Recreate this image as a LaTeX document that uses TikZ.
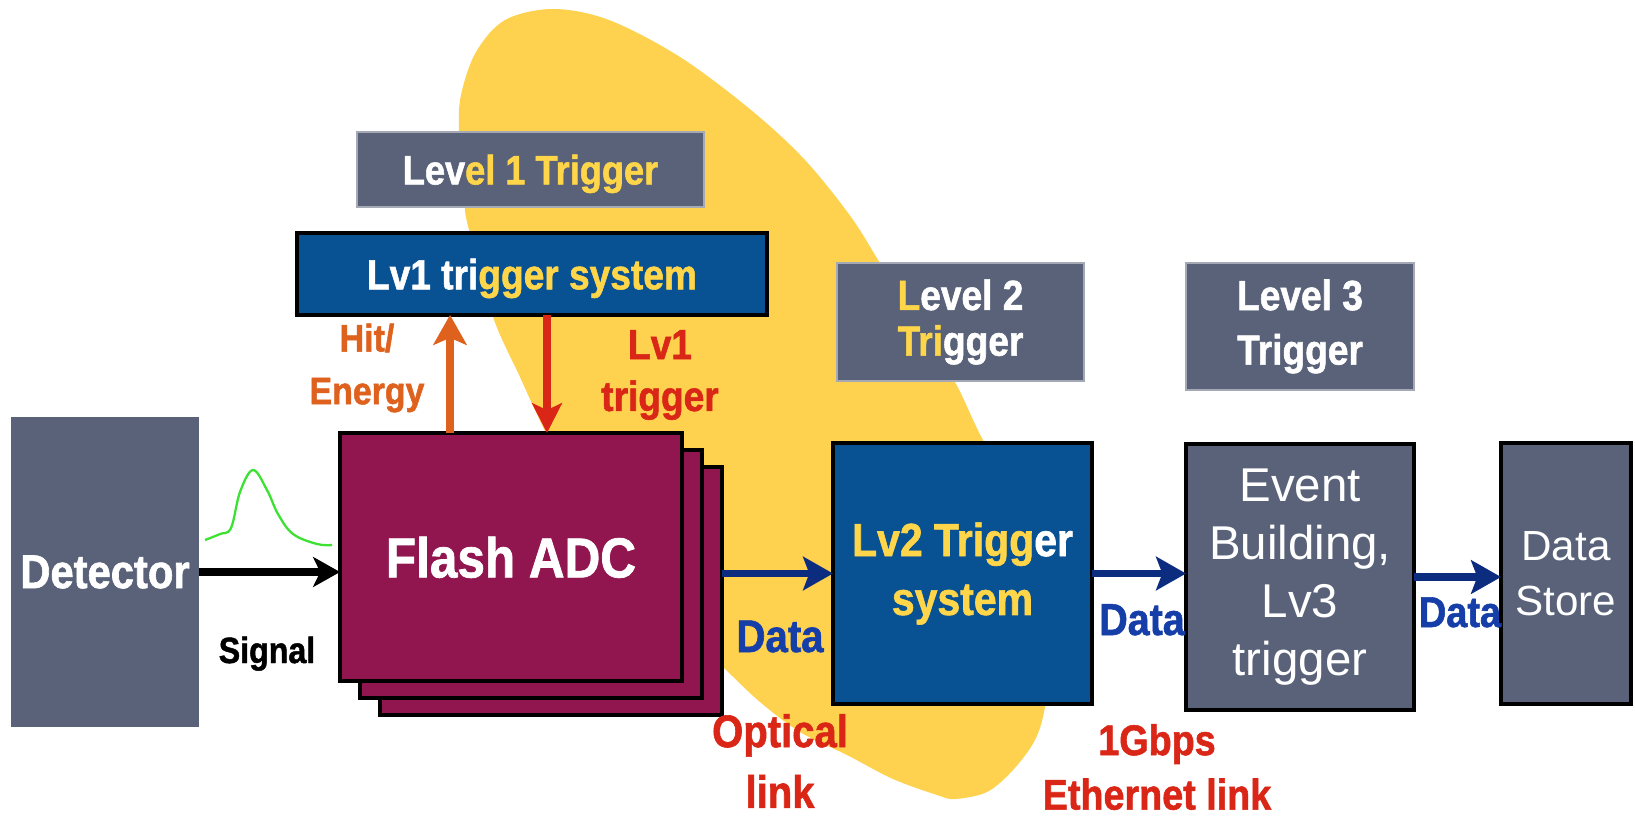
\documentclass[tikz,border=0pt]{standalone}
\usepackage{fontspec}
\setmainfont{Liberation Sans}
\newfontfamily\cond[FakeStretch=0.88, BoldFeatures={FakeBold=1.3}]{Liberation Sans}
\usetikzlibrary{arrows.meta,calc}
\definecolor{slate}{RGB}{89,98,120}
\definecolor{lvblue}{RGB}{8,82,148}
\definecolor{fadc}{RGB}{145,22,80}
\definecolor{blob}{RGB}{254,210,78}
\definecolor{hiyel}{RGB}{255,214,74}
\definecolor{orangeT}{RGB}{222,98,30}
\definecolor{redT}{RGB}{218,38,22}
\definecolor{dataT}{RGB}{22,62,168}
\definecolor{navy}{RGB}{12,44,128}
\definecolor{pulse}{RGB}{60,225,50}
\newcommand{\yl}[1]{\textcolor{hiyel}{#1}}
\newcommand{\fs}[2]{\fontsize{#1}{#2}\selectfont}
\begin{document}
\begin{tikzpicture}[x=0.02cm,y=-0.02cm,
  box/.style={inner sep=0pt, outer sep=0pt, align=center, text=white},
  slatebox/.style={box, fill=slate},
  lvl/.style={box, fill=slate, draw=slate!55!white, line width=0.8pt},
  gbox/.style={box, fill=slate, draw=black, line width=1.8pt},
  bbox/.style={box, fill=lvblue, draw=black, line width=2.2pt},
  fbox/.style={box, fill=fadc, draw=black, line width=2.3pt, minimum width=6.84cm, minimum height=4.96cm},
  lbl/.style={inner sep=0pt, align=center},
  sigarrow/.style={line width=4pt, -{Stealth[length=15.3pt,width=17pt,inset=4pt]}},
  hitarrow/.style={orangeT, line width=4.5pt, -{Stealth[length=17pt,width=19pt,inset=4pt]}},
  trigarrow/.style={redT, line width=4pt, -{Stealth[length=17pt,width=17pt,inset=4pt]}},
  dataarrow/.style={navy, line width=4.3pt, -{Stealth[length=17pt,width=19pt,inset=3.5pt]}}
]
\fill[white] (0,0) rectangle (1635,818);
\useasboundingbox (0,0) rectangle (1635,818);

% yellow highlight
\fill[blob] plot[smooth cycle, tension=0.55] coordinates {(553,9) (609,20) (680,57) (751,110) (805,160) (851,217) (880,263) (917,320) (955,382) (983,440) (1025,510) (1045,580) (1052,650) (1045,707) (1035,740) (1013,770) (987,792) (955,799) (937,795) (893,779) (847,755) (800,732) (760,702) (723,667) (680,625) (630,570) (580,500) (543,427) (520,377) (493,317) (469,230) (464,200) (459,133) (461,95) (476,52) (505,20)};

% boxes
\node[slatebox, minimum width=3.76cm, minimum height=6.2cm, font=\cond\bfseries\fs{27}{32}] (det) at (105,572) {Detector};
\node[fbox] (fadcC) at (551,591) {};
\node[fbox] (fadcB) at (531,574) {};
\node[fbox, text depth=0pt, font=\cond\bfseries\fs{32}{38}] (fadcA) at (511,557) {Flash ADC};
\node[lvl, minimum width=6.94cm, minimum height=1.5cm, text depth=0pt, font=\cond\bfseries\fs{23.4}{28}] (lev1) at (530.5,169.5) {Lev\yl{el 1 Trigger}};
\node[bbox, minimum width=9.4cm, minimum height=1.64cm, text depth=0pt, font=\cond\bfseries\fs{24}{29}] (lv1) at (532,274) {Lv1 tri\yl{gger system}};
\node[lvl, minimum width=4.94cm, minimum height=2.36cm, font=\cond\bfseries\fs{24}{26}] (lev2) at (960.5,322) {\yl{L}evel 2\\\yl{Tri}gger};
\node[lvl, minimum width=4.56cm, minimum height=2.54cm, font=\cond\bfseries\fs{24}{31}] (lev3) at (1300,326.5) {Level 3\\Trigger};
\node[bbox, minimum width=5.18cm, minimum height=5.22cm, text=hiyel, font=\cond\bfseries\fs{26.5}{33.5}] (lv2) at (962.5,573.5) {Lv2 Trigg\textcolor{white}{er}\\system};
\node[gbox, minimum width=4.56cm, minimum height=5.32cm, font=\fs{27}{33}] (lv3) at (1300,577) {Event\\Building,\\Lv3\\trigger};
\node[gbox, minimum width=2.6cm, minimum height=5.22cm, font=\fs{24}{31}] (store) at (1566,573.5) {Data\\Store};

% signal pulse
\draw[pulse, line width=1.3pt, line join=round] plot[smooth, tension=0.6] coordinates {(205,540) (220,534) (231,528) (240,492) (253,470) (267,490) (278,514) (293,534) (317,544) (332,545)};

% connectors
\coordinate (hx) at (450,0);
\coordinate (tx) at (547,0);
\draw[sigarrow] (det.east) -- (det.east -| fadcA.west);
\draw[hitarrow] (fadcA.north -| hx) -- (lv1.south -| hx);
\draw[trigarrow] (lv1.south -| tx) -- (fadcA.north -| tx);
\draw[dataarrow] (fadcC.east |- lv2.west) -- (lv2.west);
\draw[dataarrow] (lv2.east) -- (lv2.east -| lv3.west);
\draw[dataarrow] (lv3.east) -- (lv3.east -| store.west);

% labels
\node[lbl, anchor=base, font=\cond\bfseries\fs{20.8}{25}] (signal) at (267,663) {Signal};
\node[lbl, text=orangeT, font=\cond\bfseries\fs{21.9}{30}] (hit) at (367,368) {Hit/\\Energy};
\node[lbl, text=redT, font=\cond\bfseries\fs{24}{29.5}] (trig) at (660,375) {Lv1\\trigger};
\node[lbl, anchor=base, text=dataT, font=\cond\bfseries\fs{26}{30}] (d1) at (780,652) {Data};
\node[lbl, anchor=base, text=dataT, font=\cond\bfseries\fs{25.5}{30}] (d2) at (1142,635) {Data};
\node[lbl, anchor=base, text=dataT, font=\cond\bfseries\fs{24.5}{30}] (d3) at (1460,627) {Data};
\node[lbl, text=redT, font=\cond\bfseries\fs{25.9}{34.6}] (opt) at (780,761) {Optical\\link};
\node[lbl, text=redT, font=\cond\bfseries\fs{24.4}{31}] (eth) at (1157,767) {1Gbps\\Ethernet link};
\end{tikzpicture}
\end{document}
